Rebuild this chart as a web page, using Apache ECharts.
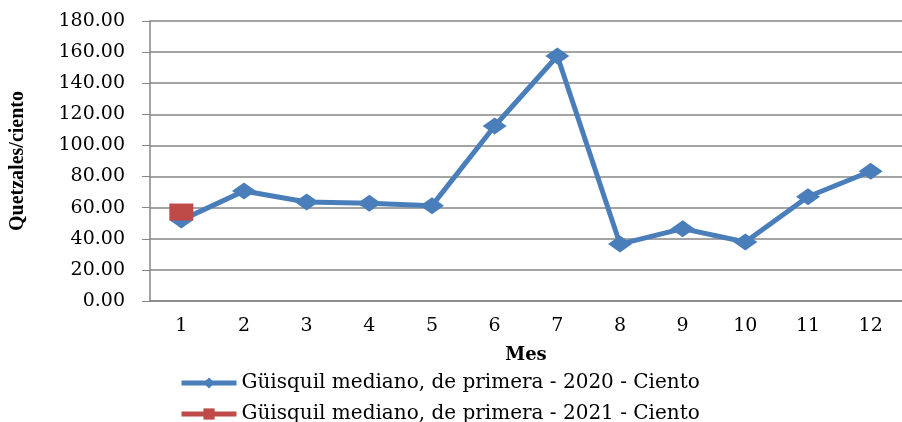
<!DOCTYPE html>
<html lang="es">
<head>
<meta charset="UTF-8">
<title>Güisquil</title>
<style>
  html, body { margin: 0; padding: 0; background: #fff; }
  #chart { width: 902px; height: 422px; }
</style>
</head>
<body>
<div id="chart"></div>
<script src="https://cdn.jsdelivr.net/npm/echarts@6/dist/echarts.min.js"></script>
<script>
const meses = ['1', '2', '3', '4', '5', '6', '7', '8', '9', '10', '11', '12'];
const serie2020 = [52, 70.7, 63.6, 62.8, 61.3, 112.5, 157.5, 36.6, 46.5, 37.9, 67, 83.4];
const serie2021 = [57.2, null, null, null, null, null, null, null, null, null, null, null];
const nombre2020 = 'Güisquil mediano, de primera - 2020 - Ciento';
const nombre2021 = 'Güisquil mediano, de primera - 2021 - Ciento';

const serif = '"DejaVu Serif", serif';
const chart = echarts.init(document.getElementById('chart'));

// una leyenda por fila, como en el original
const leyenda = (nombre, top) => ({
  left: 174,
  top: top,
  itemWidth: 55,
  itemHeight: 14,
  itemGap: 4,
  lineStyle: { width: 5 },
  textStyle: { fontFamily: serif, fontSize: 20, color: '#000' },
  data: [nombre]
});

chart.setOption({
  animation: false,
  grid: { left: 148, right: 0, top: 21, bottom: 121 },
  legend: [leyenda(nombre2020, 368), leyenda(nombre2021, 399)],
  xAxis: {
    type: 'category',
    data: meses,
    name: 'Mes',
    nameLocation: 'middle',
    nameGap: 45,
    nameTextStyle: { fontFamily: serif, fontSize: 18, fontWeight: 'bold', color: '#000' },
    axisLine: { lineStyle: { color: '#868686', width: 1.5 } },
    axisTick: { length: 6, lineStyle: { color: '#868686' } },
    axisLabel: { fontFamily: serif, fontSize: 19, color: '#000', margin: 16 }
  },
  yAxis: {
    type: 'value',
    min: 0,
    max: 180,
    interval: 20,
    name: 'Quetzales/ciento',
    nameLocation: 'middle',
    nameGap: 122,
    nameTextStyle: { fontFamily: '"Liberation Serif", serif', fontSize: 20, fontWeight: 'bold', color: '#000' },
    axisLine: { show: true, lineStyle: { color: '#868686', width: 1.5 } },
    axisTick: { show: true, length: 8, lineStyle: { color: '#868686' } },
    splitLine: { lineStyle: { color: '#868686', width: 1.5 } },
    axisLabel: {
      fontFamily: serif, fontSize: 19, color: '#000', margin: 25,
      formatter: v => v.toFixed(2)
    }
  },
  series: [
    {
      name: nombre2020,
      type: 'line',
      data: serie2020,
      symbol: 'diamond',
      symbolSize: [24, 17],
      lineStyle: { color: '#4A7EBB', width: 5 },
      itemStyle: { color: '#4A7EBB' }
    },
    {
      name: nombre2021,
      type: 'line',
      data: serie2021,
      symbol: 'rect',
      symbolSize: [24, 17],
      lineStyle: { color: '#BE4B48', width: 5 },
      itemStyle: { color: '#BE4B48' }
    }
  ]
});
</script>
</body>
</html>
